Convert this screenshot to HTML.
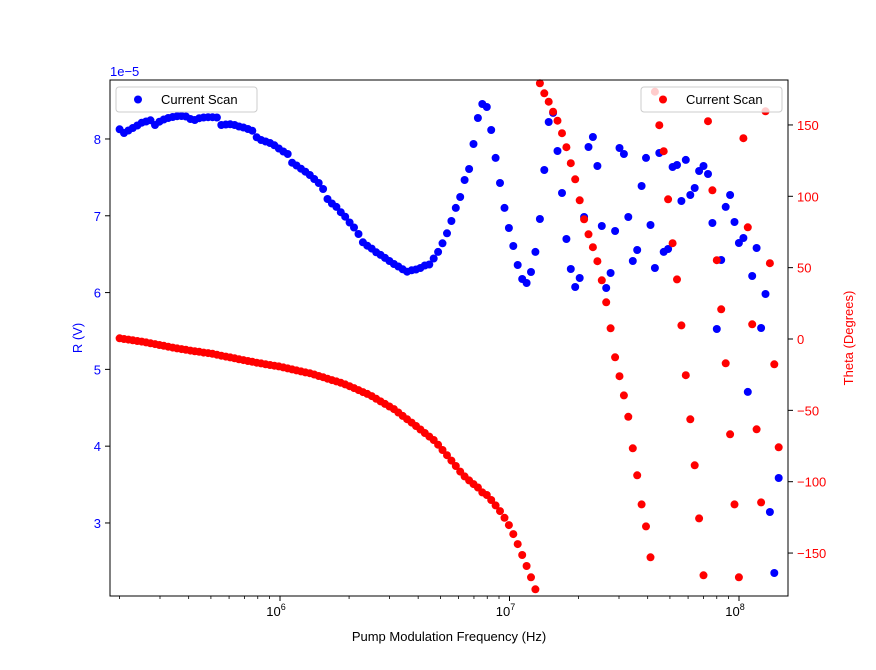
<!DOCTYPE html>
<html><head><meta charset="utf-8"><style>
html,body{margin:0;padding:0;background:#fff;}
svg{display:block;font-family:"Liberation Sans","DejaVu Sans",sans-serif;}
</style></head><body>
<svg id="chart" width="876" height="670" viewBox="0 0 876 670" xmlns="http://www.w3.org/2000/svg">
<rect x="0" y="0" width="876" height="670" fill="#fff"/>
<g id="blue"></g>
<g id="leftLegend">
<rect x="116" y="87" width="141" height="25" rx="3" fill="#fff" fill-opacity="0.8" stroke="#ccc"/>
<circle cx="138" cy="99.5" r="4" fill="#0000ff"/>
<text x="161" y="104" font-size="13" fill="#000">Current Scan</text>
</g>
<g id="red"></g>
<g id="rightLegend">
<rect x="641" y="87" width="141" height="25" rx="3" fill="#fff" fill-opacity="0.8" stroke="#ccc"/>
<circle cx="663" cy="99.5" r="4" fill="#ff0000"/>
<text x="686" y="104" font-size="13" fill="#000">Current Scan</text>
</g>
<rect x="110" y="80" width="678" height="516" fill="none" stroke="#000" stroke-width="1"/>
<g id="axes"></g>
<text x="449" y="641" font-size="13" text-anchor="middle">Pump Modulation Frequency (Hz)</text>
<text x="0" y="0" font-size="13" text-anchor="middle" fill="#0000ff" transform="translate(82,338) rotate(-90)">R (V)</text>
<text x="0" y="0" font-size="13" text-anchor="middle" fill="#ff0000" transform="translate(853,338) rotate(-90)">Theta (Degrees)</text>
<text x="110" y="76" font-size="13" fill="#0000ff">1e−5</text>
</svg>
<script>
// sweep configuration
const freqStart = 2.0e5;
const freqStop = 1.49e8;
const nPoints = 150;
// R values in units of 1e-5 V
const rValues = [8.126,8.078,8.111,8.143,8.176,8.212,8.228,8.243,8.182,8.225,8.254,8.273,8.286,8.296,8.299,8.293,8.260,8.247,8.270,8.280,
8.283,8.283,8.280,8.182,8.189,8.191,8.182,8.163,8.150,8.130,8.108,8.022,7.987,7.967,7.948,7.918,7.876,7.837,7.805,7.691,
7.655,7.613,7.574,7.531,7.479,7.427,7.349,7.219,7.160,7.115,7.046,6.988,6.913,6.848,6.763,6.655,6.611,6.572,6.525,6.490,
6.451,6.411,6.372,6.340,6.303,6.272,6.290,6.301,6.320,6.353,6.366,6.444,6.529,6.642,6.772,6.932,7.102,7.245,7.466,7.609,
7.935,8.273,8.456,8.417,8.117,7.753,7.427,7.102,6.841,6.607,6.359,6.177,6.125,6.268,6.529,6.958,7.596,8.221,8.339,7.844,
7.297,6.698,6.307,6.073,6.190,6.984,7.896,8.026,7.648,6.867,6.060,6.255,6.802,7.883,7.805,6.984,6.411,6.555,7.388,7.753,
6.880,6.320,7.818,6.529,6.568,7.635,7.661,7.193,7.727,7.271,7.362,7.583,7.648,7.544,6.906,5.526,6.424,7.115,7.271,6.919,
6.646,6.711,4.706,6.216,6.581,5.539,5.982,3.143,2.349,3.586];
// Theta values in degrees
const thetaValues = [0.5,0.0,-0.4,-0.9,-1.4,-1.8,-2.4,-3.0,-3.6,-4.2,-4.8,-5.4,-6.0,-6.6,-7.1,-7.6,-8.1,-8.6,-9.0,-9.5,
-9.9,-10.4,-11.0,-11.7,-12.3,-12.9,-13.5,-14.2,-14.8,-15.4,-16.0,-16.6,-17.1,-17.7,-18.2,-18.7,-19.2,-19.9,-20.6,-21.3,
-22.0,-22.7,-23.4,-24.0,-24.9,-25.9,-26.8,-27.8,-28.8,-29.7,-30.7,-31.8,-33.1,-34.4,-35.8,-37.2,-38.5,-40.0,-41.9,-43.7,
-45.5,-47.3,-49.1,-51.5,-53.9,-56.2,-58.6,-61.0,-63.4,-65.9,-68.4,-70.8,-74.1,-77.8,-81.4,-85.2,-89.0,-92.9,-96.3,-99.1,
-101.7,-104.1,-107.5,-109.3,-112.8,-116.6,-120.6,-125.3,-130.4,-136.7,-143.7,-151.4,-159.1,-167.0,-175.4,179.2,172.2,166.3,159.3,153.0,
144.2,134.4,123.2,111.9,97.2,83.9,73.4,64.3,54.5,41.1,25.7,7.5,-12.8,-26.1,-39.5,-54.5,-76.6,-95.5,-115.9,-131.3,
-153.0,173.3,149.8,131.6,97.9,67.1,41.8,9.5,-25.4,-56.3,-88.5,-125.7,-165.6,152.6,104.2,55.2,20.8,-17.0,-66.8,-115.9,
-167.0,140.7,78.3,10.3,-63.3,-114.5,159.6,53.1,-17.7,-75.9];
const rTicks = [3,4,5,6,7,8];
const thetaTicks = [-150,-100,-50,0,50,100,150];
const xMajorTicks = [1e6,1e7,1e8];
const xTickLabels = ["10","10","10"];
const xTickExps = ["6","7","8"];

const NS = "http://www.w3.org/2000/svg";
const L = 110, R = 788, T = 80, B = 596;
const xLogMin = 5.2593, xLogMax = 8.2135;
const rMin = 2.049, rMax = 8.768;
const thMin = -180.1, thMax = 181.5;
function xs(f){ return L + (Math.log10(f) - xLogMin) / (xLogMax - xLogMin) * (R - L); }
function yr(v){ return B - (v - rMin) / (rMax - rMin) * (B - T); }
function yt(v){ return B - (v - thMin) / (thMax - thMin) * (B - T); }
function mk(tag, attrs, parent){
  const e = document.createElementNS(NS, tag);
  for (const k in attrs) e.setAttribute(k, attrs[k]);
  parent.appendChild(e); return e;
}
const freqs = [];
for (let i = 0; i < nPoints; i++) freqs.push(Math.pow(10, Math.log10(freqStart) + i * (Math.log10(freqStop) - Math.log10(freqStart)) / (nPoints - 1)));

const gB = document.getElementById('blue');
const gR = document.getElementById('red');
const clip = v => v >= thMin && v <= thMax;
rValues.forEach((v, i) => {
  const c = mk('circle', {cx: xs(freqs[i]).toFixed(1), cy: yr(v).toFixed(1), r: 4, fill: '#0000ff'}, gB);
  
  
});
thetaValues.forEach((v, i) => {
  const c = mk('circle', {cx: xs(freqs[i]).toFixed(1), cy: yt(v).toFixed(1), r: 4, fill: '#ff0000'}, gR);
  
  
});

const ax = document.getElementById('axes');
// x major ticks
xMajorTicks.forEach((f, i) => {
  const x = xs(f);
  mk('line', {x1: x, x2: x, y1: B, y2: B + 5, stroke: '#000'}, ax);
  const t = mk('text', {x: x - 4, y: B + 20, 'font-size': 13, 'text-anchor': 'middle'}, ax);
  
  
  t.textContent = xTickLabels[i];
  const s = mk('tspan', {dy: -6, 'font-size': 9}, t);
  s.textContent = xTickExps[i];
});
// x minor ticks
for (let d = 5; d <= 8; d++) {
  for (let k = 2; k <= 9; k++) {
    const f = k * Math.pow(10, d);
    const x = xs(f);
    if (x < L || x > R) continue;
    mk('line', {x1: x, x2: x, y1: B, y2: B + 3, stroke: '#000', 'stroke-width': 0.8}, ax);
  }
}
// left ticks
rTicks.forEach(v => {
  const y = yr(v);
  mk('line', {x1: L - 5, x2: L, y1: y, y2: y, stroke: '#000'}, ax);
  const t = mk('text', {x: L - 9, y: y + 5, 'font-size': 13, 'text-anchor': 'end', fill: '#0000ff'}, ax);
  
  
  t.textContent = v;
});
// right ticks
thetaTicks.forEach(v => {
  const y = yt(v);
  mk('line', {x1: R, x2: R + 5, y1: y, y2: y, stroke: '#000'}, ax);
  const t = mk('text', {x: R + 9, y: y + 5, 'font-size': 13, 'text-anchor': 'start', fill: '#ff0000'}, ax);
  
  
  t.textContent = v < 0 ? '\u2212' + Math.abs(v) : String(v);
});
</script>
</body></html>
